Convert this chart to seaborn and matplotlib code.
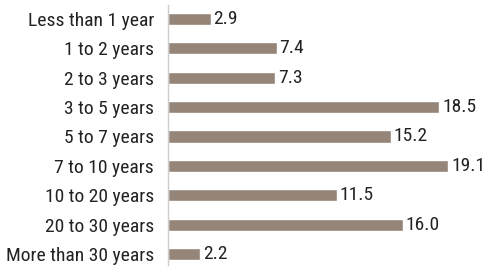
import matplotlib
matplotlib.use('Agg')
import matplotlib.pyplot as plt
import seaborn as sb
import pandas as pd

categories = ['Less than 1 year', '1 to 2 years', '2 to 3 years', '3 to 5 years',
              '5 to 7 years', '7 to 10 years', '10 to 20 years', '20 to 30 years',
              'More than 30 years']
values = [2.9, 7.4, 7.3, 18.5, 15.2, 19.1, 11.5, 16.0, 2.2]

sb.set_style('white')
plt.rcParams['font.family'] = ['Roboto Condensed', 'DejaVu Sans']

df = pd.DataFrame({'cat': categories, 'val': values})

fig = plt.figure(figsize=(4.85, 2.71), dpi=100)
ax = fig.add_axes([0.3464, 0.0221, 0.634, 0.9594])
sb.barplot(data=df, x='val', y='cat', color='#958579', saturation=1, width=0.41, ax=ax)

# value labels at bar ends
for i, v in enumerate(values):
    ax.text(v + 0.2, i, f'{v:.1f}', va='center', ha='left', fontsize=14, color='#222222')

ax.set_xlim(0, 20.96)
ax.set_ylim(8.37, -0.47)
ax.set_xlabel('')
ax.set_ylabel('')
ax.set_xticks([])
ax.tick_params(axis='y', length=0, pad=10, labelsize=14, labelcolor='#222222')
for s in ['top', 'right', 'bottom']:
    ax.spines[s].set_visible(False)
ax.spines['left'].set_color('#cccccc')
ax.spines['left'].set_linewidth(1)

fig.savefig('out.png', dpi=100)
